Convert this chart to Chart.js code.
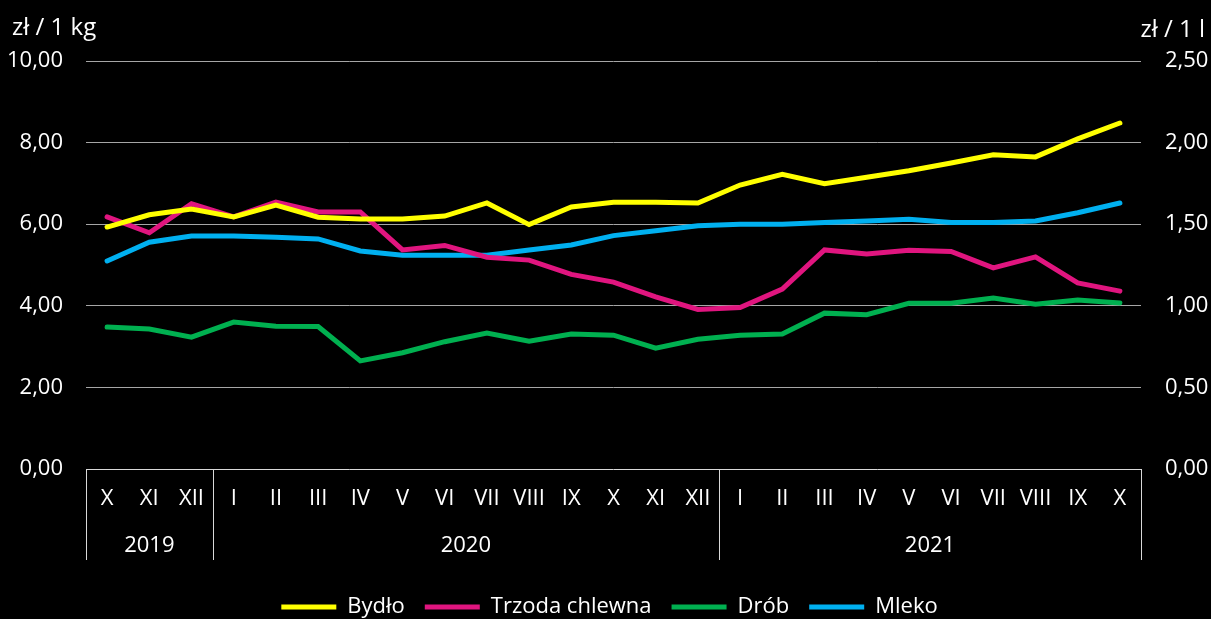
<!DOCTYPE html>
<html>
<head>
<meta charset="utf-8">
<script src="https://cdn.jsdelivr.net/npm/chart.js@4.4.0/dist/chart.umd.min.js"></script>
<style>
  html, body { margin: 0; padding: 0; background: #000; }
  #wrap { width: 1211px; height: 619px; position: relative; }
</style>
</head>
<body>
<div id="wrap"><canvas id="c" width="1211" height="619"></canvas></div>
<script>
const months = ["X","XI","XII","I","II","III","IV","V","VI","VII","VIII","IX","X","XI","XII","I","II","III","IV","V","VI","VII","VIII","IX","X"];
const years = ["2019","2020","2021"];
const yearStart = [0, 3, 15];
const yearEnd = [2, 14, 24];
const leftUnit = "zł / 1 kg";
const rightUnit = "zł / 1 l";
const seriesNames = ["Bydło","Trzoda chlewna","Drób","Mleko"];

const bydlo = [5.93,6.23,6.37,6.18,6.47,6.17,6.13,6.13,6.20,6.52,5.99,6.42,6.54,6.54,6.52,6.96,7.22,6.99,7.15,7.31,7.50,7.70,7.65,8.09,8.48];
const trzoda = [6.18,5.79,6.50,6.18,6.54,6.30,6.30,5.37,5.48,5.19,5.12,4.77,4.58,4.22,3.91,3.96,4.41,5.37,5.27,5.36,5.33,4.93,5.20,4.56,4.36];
const drob = [3.48,3.43,3.23,3.60,3.50,3.49,2.65,2.85,3.12,3.33,3.13,3.31,3.28,2.96,3.18,3.28,3.31,3.82,3.78,4.06,4.06,4.19,4.04,4.14,4.07];
const mleko = [1.275,1.39,1.428,1.428,1.42,1.41,1.336,1.31,1.31,1.31,1.342,1.373,1.43,1.46,1.49,1.50,1.50,1.51,1.52,1.53,1.51,1.51,1.52,1.57,1.63];

const colors = ["#FFFF00","#E0157F","#00B050","#00B0F0"];
const FONT = "'Open Sans', 'Noto Sans', sans-serif";

function fmt(v, d) { return v.toFixed(d).replace('.', ','); }

const groupPlugin = {
  id: 'groups',
  afterDraw(chart) {
    const ctx = chart.ctx;
    const x = chart.scales.x;
    const area = chart.chartArea;
    ctx.save();
    ctx.strokeStyle = '#d9d9d9';
    ctx.lineWidth = 1;
    const bounds = [area.left];
    for (let i = 0; i < yearEnd.length - 1; i++) {
      bounds.push((x.getPixelForValue(yearEnd[i]) + x.getPixelForValue(yearStart[i+1])) / 2);
    }
    bounds.push(area.right);
    ctx.beginPath();
    bounds.forEach(b => {
      const bx = Math.round(b) + 0.5;
      ctx.moveTo(bx, area.bottom);
      ctx.lineTo(bx, area.bottom + 91);
    });
    ctx.stroke();
    ctx.fillStyle = '#ffffff';
    ctx.font = "22px " + FONT;
    ctx.textAlign = 'center';
    ctx.textBaseline = 'middle';
    years.forEach((y, i) => {
      ctx.fillText(y, (bounds[i] + bounds[i+1]) / 2, area.bottom + 77);
    });
    ctx.font = "24px " + FONT;
    ctx.textAlign = 'left';
    ctx.fillText(leftUnit, 12, 28);
    ctx.textAlign = 'right';
    ctx.fillText(rightUnit, 1205, 30);
    ctx.restore();
  }
};

new Chart(document.getElementById('c'), {
  type: 'line',
  data: {
    labels: months,
    datasets: [
      { label: seriesNames[0], data: bydlo, yAxisID: 'y' },
      { label: seriesNames[1], data: trzoda, yAxisID: 'y' },
      { label: seriesNames[2], data: drob, yAxisID: 'y' },
      { label: seriesNames[3], data: mleko, yAxisID: 'y1' }
    ].map((d, i) => Object.assign(d, {
      borderColor: colors[i],
      backgroundColor: colors[i],
      borderWidth: 5,
      pointRadius: 0,
      tension: 0,
      borderCapStyle: 'round',
      borderJoinStyle: 'miter'
    }))
  },
  options: {
    responsive: false,
    animation: false,
    layout: { padding: { left: 8, right: 0, top: 61, bottom: -9 } },
    plugins: {
      legend: {
        position: 'bottom',
        labels: {
          color: '#ffffff',
          font: { family: FONT, size: 22 },
          usePointStyle: true,
          pointStyle: 'line',
          pointStyleWidth: 55,
          boxHeight: 5,
          padding: 20
        }
      },
      tooltip: { enabled: false }
    },
    scales: {
      x: {
        offset: true,
        grid: { display: false, drawTicks: false, offset: true },
        border: { display: false },
        ticks: {
          color: '#ffffff',
          font: { family: FONT, size: 22 },
          padding: 17,
          maxRotation: 0,
          autoSkip: false
        },
        afterFit(s) { s.height = 107; }
      },
      y: {
        position: 'left',
        min: 0, max: 10,
        grid: {
          color: (c) => c.tick.value === 0 ? '#d9d9d9' : '#a6a6a6',
          lineWidth: 1,
          drawTicks: false
        },
        border: { display: false },
        ticks: {
          stepSize: 2,
          color: '#ffffff',
          font: { family: FONT, size: 22 },
          padding: 23,
          callback: (v) => fmt(v, 2)
        },
        afterFit(s) { s.width = 78; }
      },
      y1: {
        position: 'right',
        min: 0, max: 2.5,
        grid: { display: false, drawTicks: false },
        border: { display: false },
        ticks: {
          stepSize: 0.5,
          color: '#ffffff',
          font: { family: FONT, size: 22 },
          padding: 24,
          callback: (v) => fmt(v, 2)
        },
        afterFit(s) { s.width = 70; }
      }
    }
  },
  plugins: [groupPlugin]
});
</script>
</body>
</html>
